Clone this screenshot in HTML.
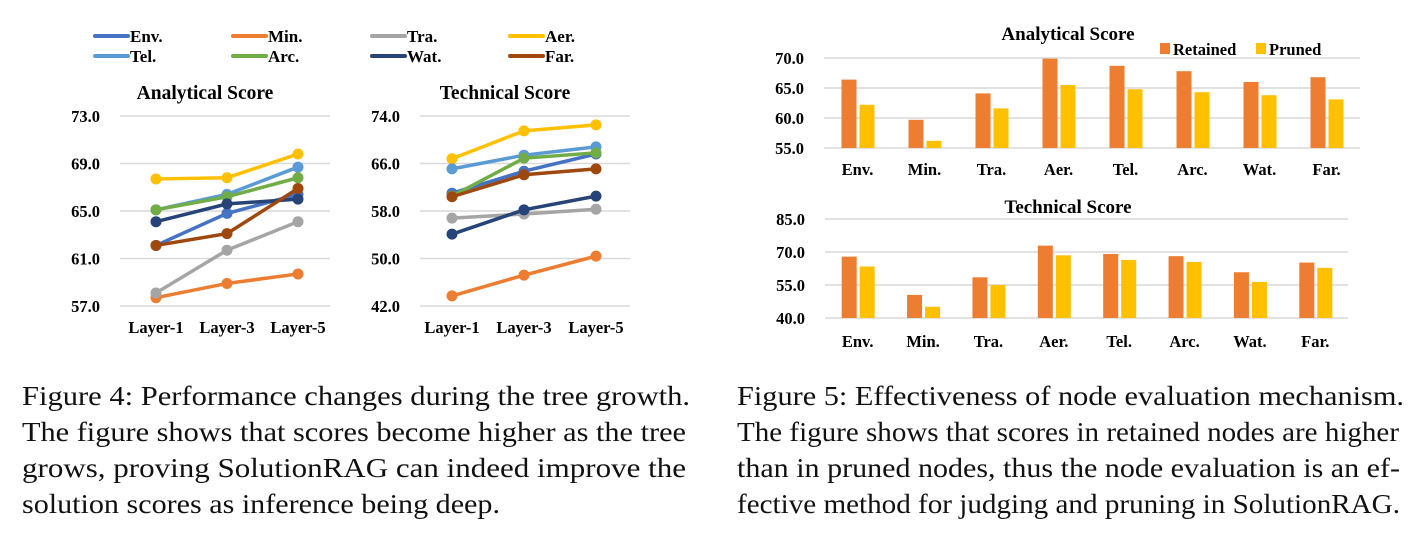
<!DOCTYPE html>
<html><head><meta charset="utf-8"><style>
body{margin:0;background:#fff;width:1412px;height:537px;overflow:hidden}
svg{display:block;font-family:"Liberation Serif",serif}
.b{font-weight:bold;fill:#000}
.cap{font-size:27px;fill:#111}
</style></head><body>
<svg id="s" width="1412" height="537">
<g id="legend"></g>
<g id="lineA"></g>
<g id="lineT"></g>
<g id="barA"></g>
<g id="barT"></g>
<g>
<text class="cap" x="22" y="405" textLength="668" lengthAdjust="spacingAndGlyphs">Figure 4: Performance changes during the tree growth.</text>
<text class="cap" x="22" y="441" textLength="664" lengthAdjust="spacingAndGlyphs">The figure shows that scores become higher as the tree</text>
<text class="cap" x="22" y="477" textLength="664" lengthAdjust="spacingAndGlyphs">grows, proving SolutionRAG can indeed improve the</text>
<text class="cap" x="22" y="513" textLength="478" lengthAdjust="spacingAndGlyphs">solution scores as inference being deep.</text>
</g>
<g>
<text class="cap" x="737" y="405" textLength="667" lengthAdjust="spacingAndGlyphs">Figure 5: Effectiveness of node evaluation mechanism.</text>
<text class="cap" x="737" y="441" textLength="662" lengthAdjust="spacingAndGlyphs">The figure shows that scores in retained nodes are higher</text>
<text class="cap" x="737" y="477" textLength="663" lengthAdjust="spacingAndGlyphs">than in pruned nodes, thus the node evaluation is an ef-</text>
<text class="cap" x="737" y="513" textLength="663" lengthAdjust="spacingAndGlyphs">fective method for judging and pruning in SolutionRAG.</text>
</g>
</svg>
<script>
const layers=["Layer-1","Layer-3","Layer-5"];
const seriesNames=["Env.","Min.","Tra.","Aer.","Tel.","Arc.","Wat.","Far."];
const seriesColors=["#4472c4","#ed7d31","#a5a5a5","#ffc000","#5b9bd5","#70ad47","#264478","#9e480e"];
const anaEnv=[62.1,64.8,66.4],anaMin=[57.7,58.9,59.7],anaTra=[58.1,61.7,64.1],anaAer=[67.7,67.8,69.8],
anaTel=[65.1,66.4,68.7],anaArc=[65.1,66.2,67.8],anaWat=[64.1,65.6,66.0],anaFar=[62.1,63.1,66.9];
const tecEnv=[61.0,64.7,67.6],tecMin=[43.7,47.2,50.4],tecTra=[56.8,57.5,58.3],tecAer=[66.8,71.5,72.5],
tecTel=[65.1,67.4,68.8],tecArc=[60.5,66.9,67.8],tecWat=[54.1,58.2,60.5],tecFar=[60.4,64.1,65.1];
const anaTicks=[57,61,65,69,73];
const tecTicks=[42,50,58,66,74];
const barCats=["Env.","Min.","Tra.","Aer.","Tel.","Arc.","Wat.","Far."];
const barAnaRet=[66.4,59.7,64.1,69.9,68.7,67.8,66.0,66.8];
const barAnaPru=[62.2,56.2,61.6,65.5,64.8,64.3,63.8,63.1];
const barTecRet=[67.9,50.5,58.5,72.9,69.1,68.1,60.8,65.2];
const barTecPru=[63.4,45.1,55.0,68.5,66.4,65.5,56.4,62.8];
const barAnaTicks=[55,60,65,70];
const barTecTicks=[40,55,70,85];
const NS="http://www.w3.org/2000/svg";
function mk(p,t,a,txt){const e=document.createElementNS(NS,t);for(const k in a)e.setAttribute(k,a[k]);if(txt!==undefined)e.textContent=txt;p.appendChild(e);return e;}
const lg=document.getElementById('legend');
const lgx=[95,233,372,510];
seriesNames.forEach((n,i)=>{
 const order=[0,4,1,5,2,6,3,7];
 const idx=order.indexOf(i);
 const x=lgx[Math.floor(idx/2)],y=idx%2?56:36;
 const g=mk(lg,'g',{});
 
 
 mk(g,'line',{x1:x,x2:x+33,y1:y,y2:y,stroke:seriesColors[i],'stroke-width':4,'stroke-linecap':'round'});
 mk(g,'text',{x:x+35,y:y+6,class:'b','font-size':17},n);
});
function lineChart(id,title,data,ticks,x0,xs){
 const g=document.getElementById(id);
 const top=116,bot=306,mn=ticks[0],mx=ticks[ticks.length-1];
 const Y=v=>bot-(v-mn)/(mx-mn)*(bot-top);
 const X=i=>xs[0]+i*(xs[1]);
 const t=mk(g,'text',{x:x0+85,y:99,class:'b','font-size':19.5,'text-anchor':'middle'},title);
 
 ticks.forEach(v=>{
  mk(g,'line',{x1:x0,x2:x0+210,y1:Y(v),y2:Y(v),stroke:'#d9d9d9','stroke-width':1.5});
  const l=mk(g,'text',{x:x0-20,y:Y(v)+6,class:'b','font-size':16.5,'text-anchor':'end'},v.toFixed(1));
  
 });
 layers.forEach((c,i)=>{const l=mk(g,'text',{x:X(i),y:333,class:'b','font-size':16.5,'text-anchor':'middle'},c);
  });
 data.forEach((arr,si)=>{
  const s=mk(g,'g',{});
  
  
  mk(s,'polyline',{points:arr.map((v,i)=>X(i)+','+Y(v)).join(' '),fill:'none',stroke:seriesColors[si],'stroke-width':3.5});
  arr.forEach((v,i)=>mk(s,'circle',{cx:X(i),cy:Y(v),r:5.5,fill:seriesColors[si]}));
 });
}
lineChart('lineA','Analytical Score',[anaEnv,anaMin,anaTra,anaAer,anaTel,anaArc,anaWat,anaFar],anaTicks,120,[156,71]);
lineChart('lineT','Technical Score',[tecEnv,tecMin,tecTra,tecAer,tecTel,tecArc,tecWat,tecFar],tecTicks,420,[452,72]);
function barChart(id,title,ret,pru,ticks,x0,x1,top,bot,titleY,labY,legend){
 const g=document.getElementById(id);
 const mn=ticks[0],mx=ticks[ticks.length-1];
 const Y=v=>bot-(v-mn)/(mx-mn)*(bot-top);
 const gw=(x1-x0)/barCats.length;
 const t=mk(g,'text',{x:1068,y:titleY,class:'b','font-size':19,'text-anchor':'middle'},title);
 
 ticks.forEach(v=>{
  mk(g,'line',{x1:x0,x2:x1,y1:Y(v),y2:Y(v),stroke:'#d9d9d9','stroke-width':1.5});
  const l=mk(g,'text',{x:x0-20,y:Y(v)+6,class:'b','font-size':16.5,'text-anchor':'end'},v.toFixed(1));
  
 });
 barCats.forEach((c,i)=>{
  const cx=x0+gw*(i+0.5);
  const r=mk(g,'rect',{x:cx-16,y:Y(ret[i]),width:15,height:bot-Y(ret[i]),fill:'#ed7d31'});
  
  const p=mk(g,'rect',{x:cx+2,y:Y(pru[i]),width:15,height:bot-Y(pru[i]),fill:'#ffc000'});
  
  const l=mk(g,'text',{x:cx,y:labY,class:'b','font-size':16.5,'text-anchor':'middle'},c);
  
 });
 if(legend){
  const a=mk(g,'g',{});
  mk(a,'rect',{x:1160,y:43,width:10,height:11,fill:'#ed7d31'});
  mk(a,'text',{x:1173,y:55,class:'b','font-size':16.5},'Retained');
  const b=mk(g,'g',{});
  mk(b,'rect',{x:1256,y:43,width:10,height:11,fill:'#ffc000'});
  mk(b,'text',{x:1269,y:55,class:'b','font-size':16.5},'Pruned');
 }
}
barChart('barA','Analytical Score',barAnaRet,barAnaPru,barAnaTicks,824,1360,58,148,40,175,true);
barChart('barT','Technical Score',barTecRet,barTecPru,barTecTicks,825,1348,219,318,213,347,false);
</script>
</body></html>
